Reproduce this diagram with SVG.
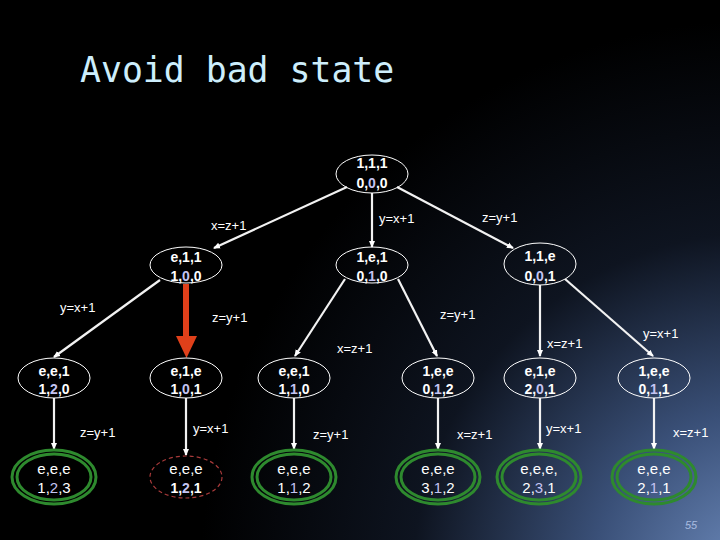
<svg xmlns="http://www.w3.org/2000/svg" width="720" height="540" viewBox="0 0 720 540">
<defs>
<radialGradient id="bg" cx="760" cy="580" r="560" gradientUnits="userSpaceOnUse">
<stop offset="0" stop-color="#6f8dbf"/>
<stop offset="0.3" stop-color="#3a5078"/>
<stop offset="0.62" stop-color="#0e1420"/>
<stop offset="1" stop-color="#000000"/>
</radialGradient>
<marker id="ah" markerWidth="8" markerHeight="8" refX="6" refY="4" orient="auto" markerUnits="userSpaceOnUse">
<path d="M0,1 L7,4 L0,7 Z" fill="#ffffff"/>
</marker>
<style>
.edge{stroke:#f2f2f2;stroke-width:2.2;fill:none;marker-end:url(#ah)}
.node{fill:none;stroke:#ffffff;stroke-width:1}
.good{fill:none;stroke:#2e8a2e;stroke-width:3}
.bad{fill:none;stroke:#a83a3a;stroke-width:1.2;stroke-dasharray:4 3}
.lbl{font-family:"Liberation Sans",Arial,sans-serif;font-size:13px;fill:#ffffff}
.nt{font-family:"Liberation Sans",Arial,sans-serif;font-size:14px;font-weight:bold;fill:#ffffff;text-anchor:middle}
.lt{font-family:"Liberation Sans",Arial,sans-serif;font-size:15px;fill:#ffffff;text-anchor:middle}
.hl{fill:#c4c4f2}
</style>
</defs>
<rect x="0" y="0" width="720" height="540" fill="url(#bg)"/>
<text x="80" y="82" font-family="'DejaVu Sans Mono',monospace" font-size="34.8" fill="#cdeefc">Avoid bad state</text>

<g id="connectors">
<line class="edge" x1="347" y1="187" x2="214" y2="248"/>
<line class="edge" x1="372" y1="193" x2="372" y2="247"/>
<line class="edge" x1="397" y1="187" x2="513" y2="248"/>
<line class="edge" x1="160" y1="280" x2="54" y2="357"/>
<line class="edge" x1="345" y1="279" x2="295" y2="356"/>
<line class="edge" x1="398" y1="279" x2="437" y2="356"/>
<line class="edge" x1="540" y1="285" x2="540" y2="356"/>
<line class="edge" x1="565" y1="279" x2="653" y2="356"/>
<line class="edge" x1="54" y1="398" x2="54" y2="449"/>
<line class="edge" x1="186" y1="398" x2="186" y2="455"/>
<line class="edge" x1="294" y1="398" x2="294" y2="449"/>
<line class="edge" x1="438" y1="398" x2="438" y2="449"/>
<line class="edge" x1="540" y1="398" x2="540" y2="449"/>
<line class="edge" x1="654" y1="398" x2="654" y2="449"/>
<g id="bad-arrow">
<rect x="183" y="284" width="6" height="56" fill="#e0401a"/>
<path d="M176,336 L197,336 L186.5,358 Z" fill="#e0401a"/>
</g>
<text class="lbl" x="211" y="230">x=z+1</text>
<text class="lbl" x="379" y="223">y=x+1</text>
<text class="lbl" x="482" y="222">z=y+1</text>
<text class="lbl" x="60" y="312">y=x+1</text>
<text class="lbl" x="212" y="322">z=y+1</text>
<text class="lbl" x="337" y="353">x=z+1</text>
<text class="lbl" x="440" y="319">z=y+1</text>
<text class="lbl" x="547" y="348">x=z+1</text>
<text class="lbl" x="643" y="338">y=x+1</text>
<text class="lbl" x="80" y="437">z=y+1</text>
<text class="lbl" x="193" y="433">y=x+1</text>
<text class="lbl" x="313" y="439">z=y+1</text>
<text class="lbl" x="457" y="439">x=z+1</text>
<text class="lbl" x="546" y="433">y=x+1</text>
<text class="lbl" x="673" y="437">x=z+1</text>
</g>

<g id="n-root">
<ellipse class="node" cx="372" cy="174" rx="36" ry="19"/>
<text class="nt" x="372" y="168">1,1,1</text>
<text class="nt" x="372" y="188">0,<tspan class="hl">0</tspan>,0</text>
</g>
<g id="n-e11">
<ellipse class="node" cx="186" cy="265" rx="36" ry="18"/>
<text class="nt" x="186" y="262">e,1,1</text>
<text class="nt" x="186" y="281">1,<tspan class="hl">0</tspan>,0</text>
</g>
<g id="n-1e1">
<ellipse class="node" cx="372" cy="265" rx="36" ry="18"/>
<text class="nt" x="372" y="262">1,e,1</text>
<text class="nt" x="372" y="281">0,<tspan class="hl">1</tspan>,0</text>
</g>
<g id="n-11e">
<ellipse class="node" cx="540" cy="264" rx="36" ry="21"/>
<text class="nt" x="540" y="261">1,1,e</text>
<text class="nt" x="540" y="281">0,<tspan class="hl">0</tspan>,1</text>
</g>

<g id="n-ee1-120">
<ellipse class="node" cx="54" cy="378" rx="36" ry="20"/>
<text class="nt" x="54" y="376">e,e,1</text>
<text class="nt" x="54" y="394">1,<tspan class="hl">2</tspan>,0</text>
</g>
<g id="n-e1e-101">
<ellipse class="node" cx="186" cy="378" rx="36" ry="20"/>
<text class="nt" x="186" y="376">e,1,e</text>
<text class="nt" x="186" y="394">1,<tspan class="hl">0</tspan>,1</text>
</g>
<g id="n-ee1-110">
<ellipse class="node" cx="294" cy="378" rx="36" ry="20"/>
<text class="nt" x="294" y="376">e,e,1</text>
<text class="nt" x="294" y="394">1,<tspan class="hl">1</tspan>,0</text>
</g>
<g id="n-1ee-012">
<ellipse class="node" cx="438" cy="378" rx="36" ry="20"/>
<text class="nt" x="438" y="376">1,e,e</text>
<text class="nt" x="438" y="394">0,<tspan class="hl">1</tspan>,2</text>
</g>
<g id="n-e1e-201">
<ellipse class="node" cx="540" cy="378" rx="36" ry="20"/>
<text class="nt" x="540" y="376">e,1,e</text>
<text class="nt" x="540" y="394">2,<tspan class="hl">0</tspan>,1</text>
</g>
<g id="n-1ee-011">
<ellipse class="node" cx="654" cy="378" rx="36" ry="20"/>
<text class="nt" x="654" y="376">1,e,e</text>
<text class="nt" x="654" y="394">0,<tspan class="hl">1</tspan>,1</text>
</g>

<g id="n-leaf-123">
<ellipse class="good" cx="54" cy="477" rx="42" ry="27"/>
<ellipse class="good" cx="54" cy="477" rx="37" ry="23"/>
<text class="lt" x="54" y="474">e,e,e</text>
<text class="lt" x="54" y="493">1,<tspan class="hl">2</tspan>,3</text>
</g>
<g id="n-leaf-121">
<ellipse class="bad" cx="186" cy="477" rx="36" ry="21"/>
<text class="lt" x="186" y="474">e,e,e</text>
<text class="nt" x="186" y="493">1,<tspan class="hl">2</tspan>,1</text>
</g>
<g id="n-leaf-112">
<ellipse class="good" cx="294" cy="477" rx="42" ry="27"/>
<ellipse class="good" cx="294" cy="477" rx="37" ry="23"/>
<text class="lt" x="294" y="474">e,e,e</text>
<text class="lt" x="294" y="493">1,<tspan class="hl">1</tspan>,2</text>
</g>
<g id="n-leaf-312">
<ellipse class="good" cx="438" cy="477" rx="42" ry="27"/>
<ellipse class="good" cx="438" cy="477" rx="37" ry="23"/>
<text class="lt" x="438" y="474">e,e,e</text>
<text class="lt" x="438" y="493">3,<tspan class="hl">1</tspan>,2</text>
</g>
<g id="n-leaf-231">
<ellipse class="good" cx="539" cy="477" rx="42" ry="27"/>
<ellipse class="good" cx="539" cy="477" rx="37" ry="23"/>
<text class="lt" x="539" y="474">e,e,e,</text>
<text class="lt" x="539" y="493">2,<tspan class="hl">3</tspan>,1</text>
</g>
<g id="n-leaf-211">
<ellipse class="good" cx="654" cy="477" rx="42" ry="27"/>
<ellipse class="good" cx="654" cy="477" rx="37" ry="23"/>
<text class="lt" x="654" y="474">e,e,e</text>
<text class="lt" x="654" y="493">2,<tspan class="hl">1</tspan>,1</text>
</g>

<text x="685" y="529" font-family="'Liberation Sans',Arial,sans-serif" font-size="11" font-style="italic" fill="#a8bce0">55</text>
</svg>
